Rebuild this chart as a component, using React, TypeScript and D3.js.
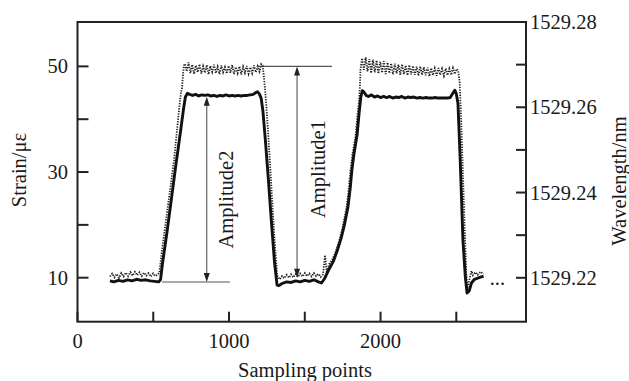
import React from "react";
import * as d3 from "d3";

// ---------- data ----------
const strainSamples = [
  214, 240, 270, 300, 330, 360, 390, 420, 450, 480, 510, 535, 548, 560, 590, 620, 650, 680, 700, 712, 725,
  740, 760, 780, 800, 820, 840, 860, 880, 900, 920, 940, 960, 980, 1000, 1020, 1040, 1060, 1080, 1100, 1120,
  1140, 1160, 1175, 1188, 1200, 1212, 1224, 1240, 1260, 1280, 1300, 1317, 1330, 1350, 1380, 1410, 1440, 1470,
  1500, 1530, 1560, 1590, 1610, 1630, 1660, 1690, 1715, 1740, 1760, 1785, 1800, 1811, 1825, 1845, 1858, 1870,
  1880, 1892, 1905, 1920, 1940, 1960, 1980, 2000, 2020, 2040, 2060, 2080, 2100, 2120, 2140, 2160, 2180, 2200,
  2220, 2240, 2260, 2280, 2300, 2320, 2340, 2360, 2380, 2400, 2420, 2440, 2460, 2475, 2490, 2500, 2511, 2525,
  2544, 2560, 2571, 2585, 2600, 2620, 2650, 2680,
];
const strainValues = [
  9.4, 9.2, 9.5, 9.3, 9.6, 9.4, 9.7, 9.5, 9.6, 9.4, 9.3, 9.2, 9.6, 12.5, 18.5, 25.0, 31.5, 37.7, 42.0, 44.2, 44.9,
  44.7, 44.5, 44.7, 44.4, 44.6, 44.5, 44.6, 44.4, 44.5, 44.3, 44.5, 44.4, 44.6, 44.4, 44.5, 44.4, 44.5, 44.4, 44.5, 44.5,
  44.6, 44.7, 45.0, 45.2, 44.8, 44.0, 41.5, 36.0, 28.5, 20.5, 13.0, 8.6, 8.5, 8.9, 9.2, 9.1, 9.4, 9.2,
  9.5, 9.3, 9.6, 9.2, 9.0, 9.8, 11.6, 13.2, 15.2, 17.5, 19.8, 23.4, 27.0, 30.4, 33.5, 37.0, 41.0, 44.2,
  45.4, 45.1, 44.5, 44.3, 44.6, 44.2, 44.4, 44.1, 44.3, 44.1, 44.3, 44.0, 44.2, 44.1, 44.3, 44.0, 44.2, 44.1,
  44.2, 44.0, 44.1, 44.0, 44.1, 44.0, 44.0, 44.1, 44.0, 44.0, 44.0, 44.0, 44.1, 44.8, 45.5, 44.8, 43.0, 33.0,
  17.0, 10.0, 7.1, 7.5, 9.0, 9.7, 10.0, 10.3,
];

const wavelengthSamples = [
  214, 229, 244, 259, 274, 289, 304, 319, 334, 349, 364, 379, 394, 409, 424, 439, 454, 469, 484, 499, 514, 528,
  540, 558, 584, 611, 637, 657, 677, 683, 690, 696, 703,
  709, 721, 733, 745, 757, 769, 781, 793, 805, 817, 829, 841, 853, 865, 877, 889, 901, 913, 925, 937, 949, 961,
  973, 985, 997, 1009, 1021, 1033, 1045, 1057, 1069, 1081, 1093, 1105, 1117, 1129, 1141, 1153, 1165, 1177, 1189,
  1201, 1213, 1222,
  1232, 1245, 1260, 1275, 1290, 1305, 1318,
  1335, 1350, 1365, 1380, 1395, 1410, 1425, 1440, 1455, 1470, 1485, 1500, 1515, 1530, 1545, 1560, 1575, 1590,
  1605, 1620, 1634, 1645,
  1660, 1685, 1705, 1730, 1750, 1775, 1790, 1801, 1815, 1835, 1848, 1858, 1864, 1868,
  1878, 1890, 1902, 1914, 1926, 1938, 1950, 1962, 1974, 1986, 1998, 2010, 2022, 2034, 2046, 2058, 2070, 2082,
  2094, 2106, 2118, 2130, 2142, 2154, 2166, 2178, 2190, 2202, 2214, 2226, 2238, 2250, 2262, 2274, 2286, 2298,
  2310, 2322, 2334, 2346, 2358, 2370, 2382, 2394, 2406, 2418, 2430, 2442, 2454, 2466, 2478, 2490, 2502, 2512,
  2522, 2532, 2544, 2555, 2565, 2572, 2580, 2592, 2600, 2610, 2625, 2640, 2660, 2680,
];
const wavelengthValues = [
  1529.2203, 1529.221, 1529.2201, 1529.2209, 1529.22, 1529.2211, 1529.2203, 1529.2212, 1529.2204, 1529.2213,
  1529.2205, 1529.2214, 1529.2206, 1529.2213, 1529.2204, 1529.2212, 1529.2205, 1529.2211, 1529.2203, 1529.221,
  1529.2204, 1529.2207,
  1529.2212, 1529.2265, 1529.2335, 1529.2406, 1529.2476, 1529.2547, 1529.2617, 1529.2636, 1529.2645, 1529.2676,
  1529.2698,
  1529.2702, 1529.2684, 1529.2705, 1529.268, 1529.27, 1529.2678, 1529.2698, 1529.2682, 1529.2701, 1529.2679,
  1529.2696, 1529.2681, 1529.2699, 1529.2677, 1529.2697, 1529.2683, 1529.27, 1529.268, 1529.2695, 1529.2678,
  1529.2698, 1529.2682, 1529.2694, 1529.2679, 1529.2697, 1529.2681, 1529.2699, 1529.2678, 1529.2694, 1529.268,
  1529.2696, 1529.2677, 1529.2695, 1529.2681, 1529.2697, 1529.2679, 1529.2694, 1529.268, 1529.2698, 1529.2682,
  1529.2696, 1529.2684, 1529.2701, 1529.2698,
  1529.2665, 1529.261, 1529.253, 1529.244, 1529.235, 1529.2265, 1529.2205,
  1529.2196, 1529.2204, 1529.2199, 1529.2207, 1529.22, 1529.2208, 1529.2201, 1529.2209, 1529.2202, 1529.221,
  1529.2203, 1529.2211, 1529.2204, 1529.221, 1529.2203, 1529.2211, 1529.2204, 1529.2209, 1529.2202, 1529.2208,
  1529.2253, 1529.2212,
  1529.2232, 1529.2245, 1529.2262, 1529.2291, 1529.2319, 1529.2364, 1529.2408, 1529.245, 1529.249, 1529.2532,
  1529.2582, 1529.2615, 1529.265, 1529.269,
  1529.2715, 1529.2688, 1529.2717, 1529.2684, 1529.2713, 1529.268, 1529.2712, 1529.2682, 1529.271, 1529.2679,
  1529.2707, 1529.2681, 1529.2708, 1529.2678, 1529.2705, 1529.268, 1529.2703, 1529.2677, 1529.2702, 1529.2679,
  1529.27, 1529.2676, 1529.2701, 1529.2678, 1529.2698, 1529.2675, 1529.2699, 1529.2677, 1529.2697, 1529.2676,
  1529.2695, 1529.2674, 1529.2696, 1529.2676, 1529.2694, 1529.2675, 1529.2693, 1529.2673, 1529.2692, 1529.2675,
  1529.2691, 1529.2674, 1529.2692, 1529.2676, 1529.269, 1529.2674, 1529.2691, 1529.2675, 1529.269, 1529.2676,
  1529.2692, 1529.2678, 1529.269, 1529.2686,
  1529.266, 1529.257, 1529.244, 1529.232, 1529.222, 1529.2175, 1529.2185, 1529.2205, 1529.2216, 1529.2206,
  1529.2213, 1529.2207, 1529.2214, 1529.2209,
];

const xMajorTicks = [0, 1000, 2000];
const xMinorTicks = [500, 1500, 2500];
const leftMajorTicks = [10, 30, 50];
const leftMinorTicks = [20, 40];
const rightMajorTicks = [1529.22, 1529.24, 1529.26, 1529.28];
const rightMinorTicks = [1529.23, 1529.25, 1529.27];

// annotations (data units)
const amp1 = { x: 1449, top: 50, bottom: 10, lineFrom: 1191, lineTo: 1680, label: "Amplitude1" };
const amp2 = { x: 853, top: 44.25, bottom: 9.19, lineFrom: 558, lineTo: 1006, label: "Amplitude2" };

// ---------- layout ----------
const W = 629;
const H = 381;
const L = 77.5, R = 526, T = 22, B = 321.7;
const FONT = '"Liberation Serif", "Times New Roman", serif';
const FS = 20.5;
const TXT = "#1a1a1a";

export default function App() {
  const x = d3.scaleLinear().domain([0, 2960]).range([L, R]);
  const yL = d3.scaleLinear().domain([1.67, 58.4]).range([B, T]);
  const yR = d3.scaleLinear().domain([1529.2097, 1529.28]).range([B, T]);

  const strain = strainSamples.map((s, i) => [s, strainValues[i]] as [number, number]);
  const wave = wavelengthSamples.map((s, i) => [s, wavelengthValues[i]] as [number, number]);

  const strainLine = d3.line<[number, number]>().x((d) => x(d[0])).y((d) => yL(d[1]));
  const waveLine = d3.line<[number, number]>().x((d) => x(d[0])).y((d) => yR(d[1]));

  const tickLen = 10;
  const axisStroke = "#222";

  const arrowHead = (px: number, py: number, dir: number) => {
    const h = 9, w = 3;
    return `M${px},${py} L${px - w},${py - dir * h} L${px + w},${py - dir * h} Z`;
  };

  const renderAmp = (a: typeof amp1, lineAtTop: boolean, textDx: number, textY: number) => {
    const ax = x(a.x);
    const yt = yL(a.top);
    const yb = yL(a.bottom);
    const yh = lineAtTop ? yt : yb;
    return (
      <g>
        <line x1={x(a.lineFrom)} x2={x(a.lineTo)} y1={yh} y2={yh} stroke="#555" strokeWidth={1.1} />
        <line x1={ax} x2={ax} y1={yt + 4} y2={yb - 4} stroke="#555" strokeWidth={1.1} />
        <path d={arrowHead(ax, yt, -1)} fill="#222" />
        <path d={arrowHead(ax, yb, 1)} fill="#222" />
        <text
          transform={`translate(${ax + textDx},${textY}) rotate(-90)`}
          textAnchor="middle"
          fontFamily={FONT}
          fontSize={FS}
          fill={TXT}
        >
          {a.label}
        </text>
      </g>
    );
  };

  return (
    <svg width={W} height={H} style={{ position: "absolute", left: 0, top: 0, background: "#fff" }}>
      {renderAmp(amp1, true, 28, 169)}
      {renderAmp(amp2, false, 26.5, 199.5)}

      <path d={waveLine(wave) || ""} fill="none" stroke="#222" strokeWidth={1.8} strokeDasharray="1.3,1.3" />
      <path d={strainLine(strain) || ""} fill="none" stroke="#111" strokeWidth={2.9} strokeLinejoin="round" />

      <rect x={L} y={T} width={R - L} height={B - T} fill="none" stroke={axisStroke} strokeWidth={2} />

      {[...xMajorTicks, ...xMinorTicks].map((t) => (
        <line key={"xt" + t} x1={x(t)} x2={x(t)} y1={B} y2={B - tickLen} stroke={axisStroke} strokeWidth={2} />
      ))}
      {xMajorTicks.map((t) => (
        <text key={"xl" + t} x={x(t)} y={348} textAnchor="middle" fontFamily={FONT} fontSize={FS} fill={TXT}>
          {t}
        </text>
      ))}

      {[...leftMajorTicks, ...leftMinorTicks].map((t) => (
        <line key={"lt" + t} x1={L} x2={L + tickLen + 1} y1={yL(t)} y2={yL(t)} stroke={axisStroke} strokeWidth={2} />
      ))}
      {leftMajorTicks.map((t) => (
        <text key={"ll" + t} x={68} y={yL(t) + 7} textAnchor="end" fontFamily={FONT} fontSize={FS} fill={TXT}>
          {t}
        </text>
      ))}

      {[...rightMajorTicks, ...rightMinorTicks].map((t) => (
        <line key={"rt" + t} x1={R} x2={R - tickLen} y1={yR(t)} y2={yR(t)} stroke={axisStroke} strokeWidth={2} />
      ))}
      {rightMajorTicks.map((t) => (
        <text key={"rl" + t} x={530} y={yR(t) + 7} textAnchor="start" fontFamily={FONT} fontSize={FS} fill={TXT}>
          {t.toFixed(2)}
        </text>
      ))}

      <text x={x(2720)} y={yL(9.5) + 5} fontFamily={FONT} fontSize={FS} fill={TXT}>
        ...
      </text>

      <text x={305} y={377} textAnchor="middle" fontFamily={FONT} fontSize={FS} fill={TXT}>
        Sampling points
      </text>
      <text transform={`translate(26,170) rotate(-90)`} textAnchor="middle" fontFamily={FONT} fontSize={FS} fill={TXT}>
        Strain/με
      </text>
      <text transform={`translate(626,181) rotate(-90)`} textAnchor="middle" fontFamily={FONT} fontSize={FS} fill={TXT}>
        Wavelength/nm
      </text>
    </svg>
  );
}
